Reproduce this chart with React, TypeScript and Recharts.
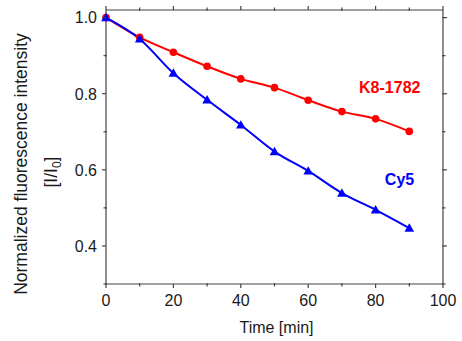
import React from "react";
import { LineChart, Line, XAxis, YAxis, ReferenceDot } from "recharts";

const times = [0, 10, 20, 30, 40, 50, 60, 70, 80, 90];
const k8Values = [1.0, 0.948, 0.909, 0.872, 0.839, 0.816, 0.783, 0.753, 0.734, 0.701];
const cy5Values = [1.0, 0.944, 0.854, 0.784, 0.718, 0.648, 0.597, 0.539, 0.495, 0.447];
const xTicks = [0, 10, 20, 30, 40, 50, 60, 70, 80, 90, 100];
const yTicks = [0.3, 0.4, 0.5, 0.6, 0.7, 0.8, 0.9, 1.0];
const annotations = [
  { name: "K8-1782", x: 84.2, y: 0.803, color: "#ff0000" },
  { name: "Cy5", x: 87.1, y: 0.561, color: "#0000ff" },
];

const data = times.map((t, i) => ({ t, k8: k8Values[i], cy5: cy5Values[i] }));

const AXIS = "#444";
const FONT = "'Liberation Sans', Arial, sans-serif";

const isMinorX = (v: number) => Math.round(v) % 20 !== 0;
const isMinorY = (v: number) => Math.round(v * 10) % 2 === 1;

const BottomTick = (props: any) => {
  const { x, y, payload } = props;
  const minor = isMinorX(payload.value);
  return (
    <g>
      <line x1={x} x2={x} y1={minor ? y - 1 : y} y2={y + (minor ? 2.5 : 4)} stroke={AXIS} strokeWidth={1.2} />
      {!minor && (
        <text x={x} y={y + 22} textAnchor="middle" fontSize={16} fontFamily={FONT} fill="#1a1a1a">
          {payload.value}
        </text>
      )}
    </g>
  );
};

const TopTick = (props: any) => {
  const { x, y, payload } = props;
  const minor = isMinorX(payload.value);
  return <line x1={x} x2={x} y1={minor ? y + 1 : y} y2={y - (minor ? 2.5 : 4)} stroke={AXIS} strokeWidth={1.2} />;
};

const LeftTick = (props: any) => {
  const { x, y, payload } = props;
  const minor = isMinorY(payload.value);
  return (
    <g>
      <line x1={minor ? x + 1 : x} x2={x - (minor ? 2.5 : 4)} y1={y} y2={y} stroke={AXIS} strokeWidth={1.2} />
      {!minor && (
        <text x={x - 9} y={y + 5.8} textAnchor="end" fontSize={16} fontFamily={FONT} fill="#1a1a1a">
          {Number(payload.value).toFixed(1)}
        </text>
      )}
    </g>
  );
};

const RightTick = (props: any) => {
  const { x, y, payload } = props;
  const minor = isMinorY(payload.value);
  return <line x1={x - 1} x2={x + (minor ? 2.5 : 4)} y1={y} y2={y} stroke={AXIS} strokeWidth={1.2} />;
};

const Triangle = (props: any) => {
  const { cx, cy, fill } = props;
  if (cx == null || cy == null) return null;
  const s = 4.8;
  return <path d={`M${cx},${cy - s} L${cx + s},${cy + s * 0.75} L${cx - s},${cy + s * 0.75} Z`} fill={fill} />;
};

const YTitle = (props: any) => {
  const vb = props.viewBox || { x: 0, y: 10, width: 106, height: 274 };
  const cy = vb.y + vb.height / 2 + 17;
  const x1 = 27;
  const x2 = 57;
  return (
    <g fontFamily={FONT} fontSize={17.5} fill="#1a1a1a">
      <text x={x1} y={cy} textAnchor="middle" transform={`rotate(-90 ${x1} ${cy})`}>
        Normalized fluorescence intensity
      </text>
      <text x={x2} y={cy + 8} textAnchor="middle" transform={`rotate(-90 ${x2} ${cy + 8})`}>
        [I/I<tspan fontSize={12} dy={4}>0</tspan>
        <tspan dy={-4}>]</tspan>
      </text>
    </g>
  );
};

const XTitle = (props: any) => {
  const vb = props.viewBox || { x: 106, y: 284, width: 337, height: 57 };
  const cx = vb.x + vb.width / 2 + 2;
  return (
    <text x={cx} y={333} textAnchor="middle" fontFamily={FONT} fontSize={16} fill="#1a1a1a">
      Time [min]
    </text>
  );
};

const AnnLabel = (props: any) => {
  const { viewBox, value, fill } = props;
  const cx = viewBox.cx ?? viewBox.x;
  const cy = viewBox.cy ?? viewBox.y;
  return (
    <text x={cx} y={cy} textAnchor="middle" fontFamily={FONT} fontSize={16} fontWeight="bold" fill={fill}>
      {value}
    </text>
  );
};

export default function App() {
  return (
    <div style={{ position: "absolute", left: 0, top: 0, background: "#fff" }}>
      <LineChart width={462} height={341} data={data} margin={{ top: 9, right: 18, left: 0, bottom: 0 }}>
        <XAxis
          xAxisId="bottom"
          dataKey="t"
          type="number"
          domain={[0, 100]}
          ticks={xTicks}
          interval={0}
          height={57}
          stroke={AXIS}
          strokeWidth={1.2}
          tickLine={false}
          tickSize={0}
          tickMargin={0}
          tick={<BottomTick />}
          label={<XTitle />}
        />
        <XAxis
          xAxisId="top"
          orientation="top"
          dataKey="t"
          type="number"
          domain={[0, 100]}
          ticks={xTicks}
          interval={0}
          height={1}
          stroke={AXIS}
          strokeWidth={1.2}
          tickLine={false}
          tickSize={0}
          tickMargin={0}
          tick={<TopTick />}
        />
        <YAxis
          yAxisId="left"
          type="number"
          domain={[0.3, 1.02]}
          ticks={yTicks}
          interval={0}
          width={106}
          stroke={AXIS}
          strokeWidth={1.2}
          tickLine={false}
          tickSize={0}
          tickMargin={0}
          tick={<LeftTick />}
          label={<YTitle />}
          allowDataOverflow
        />
        <YAxis
          yAxisId="right"
          orientation="right"
          type="number"
          domain={[0.3, 1.02]}
          ticks={yTicks}
          interval={0}
          width={1}
          stroke={AXIS}
          strokeWidth={1.2}
          tickLine={false}
          tickSize={0}
          tickMargin={0}
          tick={<RightTick />}
          allowDataOverflow
        />
        <Line
          xAxisId="bottom"
          yAxisId="left"
          type="monotone"
          dataKey="k8"
          stroke="#ff0000"
          strokeWidth={2}
          dot={{ r: 3.8, fill: "#ff0000", stroke: "#ff0000", strokeWidth: 0 }}
          isAnimationActive={false}
        />
        <Line
          xAxisId="bottom"
          yAxisId="left"
          type="monotone"
          dataKey="cy5"
          stroke="#0000ff"
          strokeWidth={2}
          dot={<Triangle fill="#0000ff" />}
          isAnimationActive={false}
        />
        {annotations.map((a) => (
          <ReferenceDot
            key={a.name}
            xAxisId="bottom"
            yAxisId="left"
            x={a.x}
            y={a.y}
            r={0}
            stroke="none"
            fill="none"
            label={<AnnLabel value={a.name} fill={a.color} />}
          />
        ))}
      </LineChart>
    </div>
  );
}
